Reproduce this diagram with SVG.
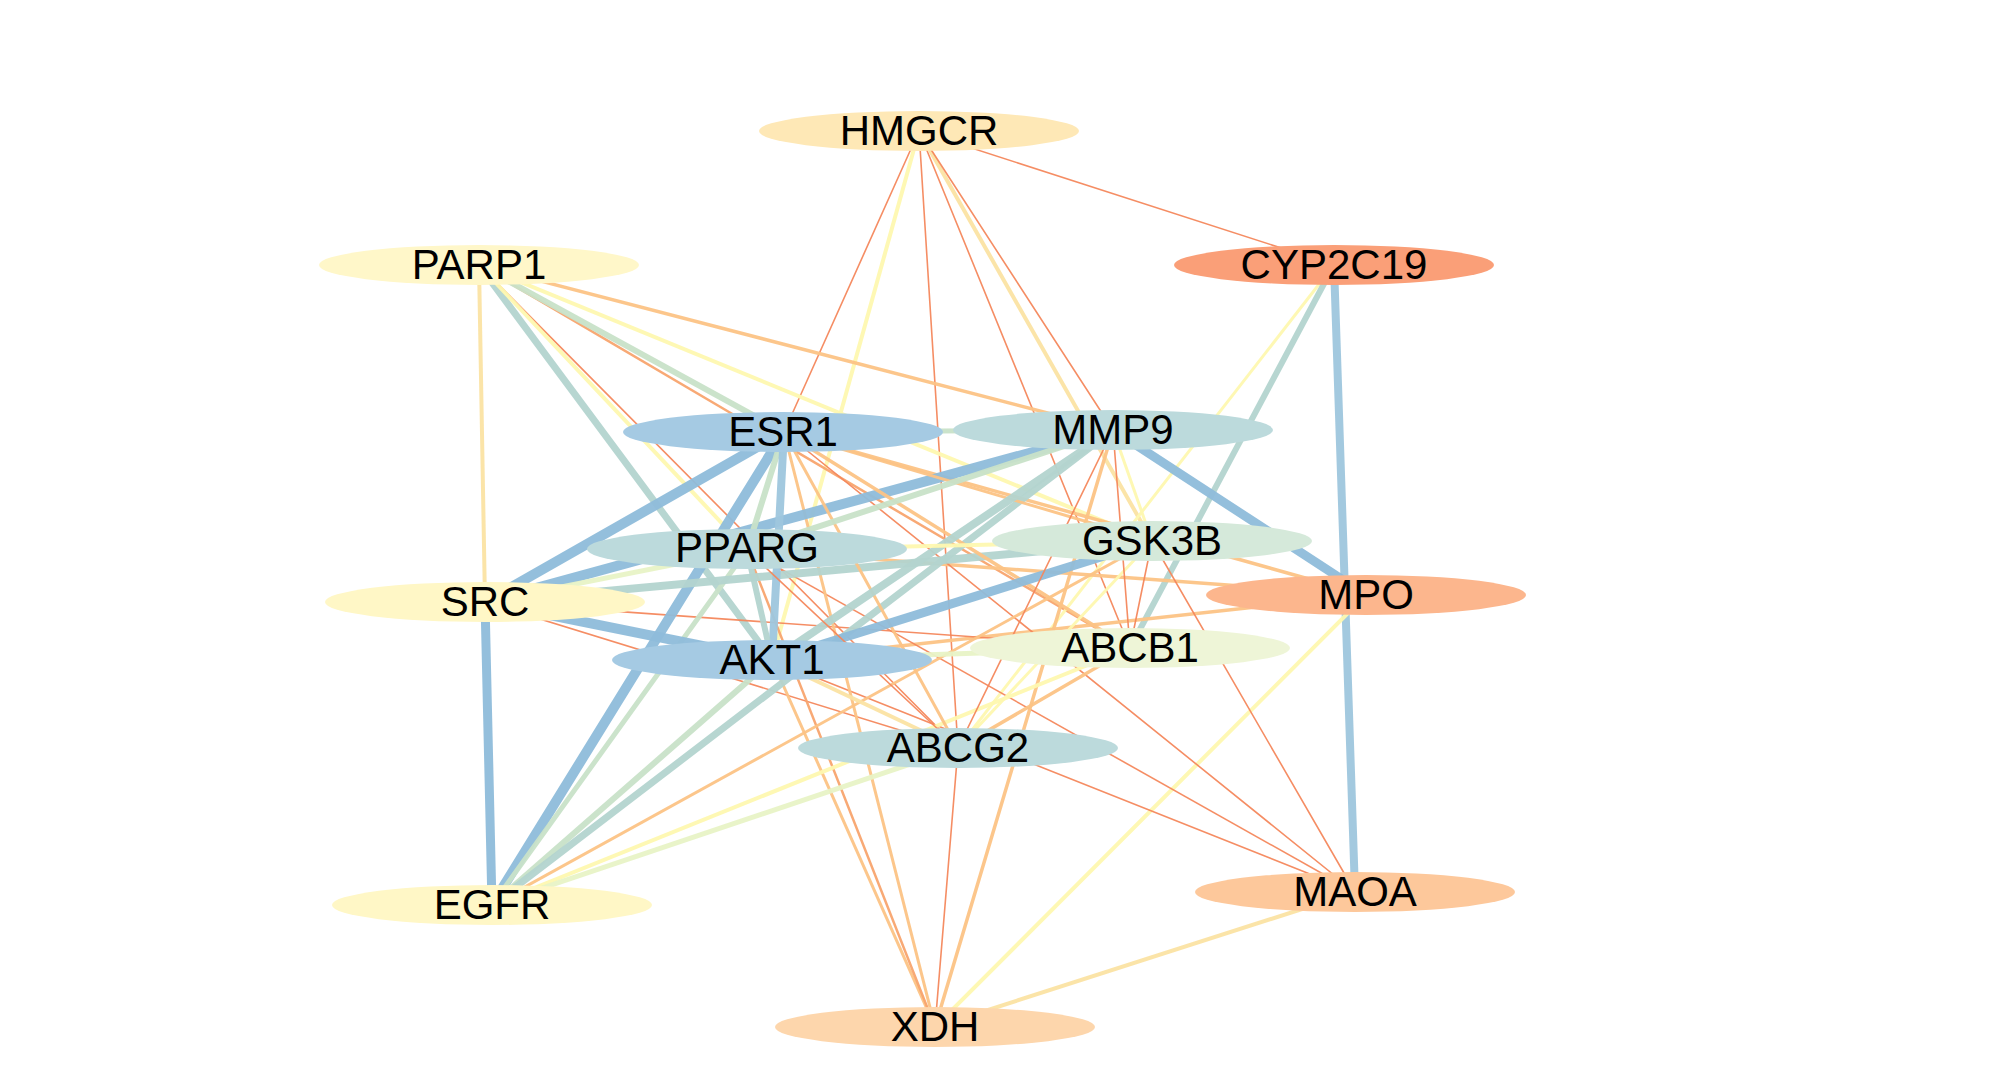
<svg xmlns="http://www.w3.org/2000/svg" width="2000" height="1087" viewBox="0 0 2000 1087">
<style>
.e{fill:none;stroke-linecap:round;stroke-opacity:0.95}
.bk{stroke:#8EBCDA;stroke-width:10}
.bm{stroke:#9EC6DD;stroke-width:8}
.gb{stroke:#B3D4CF;stroke-width:7}
.lg{stroke:#C8E1C8;stroke-width:6}
.yg{stroke:#E8F3C6;stroke-width:5}
.y{stroke:#FEF8B0;stroke-width:4}
.t{stroke:#FBE3A3;stroke-width:4}
.o{stroke:#FCC385;stroke-width:3.5}
.ro{stroke:#F8A46E;stroke-width:2.5}
.r{stroke:#F4875C;stroke-width:1.6}
.n ellipse{stroke:none}
.n text{font-family:"Liberation Sans",Arial,sans-serif;font-size:42px;fill:#000;text-anchor:middle}
</style>
<rect width="2000" height="1087" fill="#fff"/>
<g id="edges" class="e">
<line class="r" x1="919" y1="131" x2="1334" y2="265"/>
<line class="r" x1="919" y1="131" x2="784" y2="432"/>
<line class="y" x1="919" y1="131" x2="772" y2="660"/>
<line class="r" x1="919" y1="131" x2="958" y2="748"/>
<line class="r" x1="919" y1="131" x2="1130" y2="648"/>
<line class="t" x1="919" y1="131" x2="1152" y2="541"/>
<line class="r" x1="919" y1="131" x2="1113" y2="430"/>
<line class="t" x1="479" y1="265" x2="485" y2="602"/>
<line class="gb" x1="479" y1="265" x2="772" y2="660"/>
<line class="r" x1="479" y1="265" x2="958" y2="748"/>
<line class="y" x1="479" y1="265" x2="747" y2="550"/>
<line class="ro" x1="479" y1="265" x2="1130" y2="648"/>
<line class="lg" x1="479" y1="265" x2="784" y2="432"/>
<line class="y" x1="479" y1="265" x2="1152" y2="541"/>
<line class="o" x1="479" y1="265" x2="1113" y2="430"/>
<line class="y" style="stroke-width:3" x1="1334" y1="265" x2="958" y2="748"/>
<line class="gb" style="stroke-width:6" x1="1334" y1="265" x2="1130" y2="648"/>
<line class="bm" x1="1334" y1="265" x2="1355" y2="892"/>
<line class="bk" style="stroke-width:9" x1="1113" y1="430" x2="1366" y2="595"/>
<line class="o" x1="784" y1="432" x2="1366" y2="595"/>
<line class="o" x1="747" y1="550" x2="1366" y2="595"/>
<line class="o" x1="772" y1="660" x2="1366" y2="595"/>
<line class="y" x1="1366" y1="595" x2="935" y2="1027"/>
<line class="r" x1="485" y1="602" x2="1130" y2="648"/>
<line class="r" x1="485" y1="602" x2="958" y2="748"/>
<line class="r" x1="772" y1="660" x2="1355" y2="892"/>
<line class="r" x1="747" y1="550" x2="1355" y2="892"/>
<line class="r" x1="784" y1="432" x2="1355" y2="892"/>
<line class="r" x1="1152" y1="541" x2="1355" y2="892"/>
<line class="t" x1="1355" y1="892" x2="935" y2="1027"/>
<line class="o" style="stroke-width:3" x1="772" y1="660" x2="935" y2="1027"/>
<line class="ro" x1="747" y1="550" x2="935" y2="1027"/>
<line class="o" style="stroke-width:3" x1="784" y1="432" x2="935" y2="1027"/>
<line class="r" x1="958" y1="748" x2="935" y2="1027"/>
<line class="o" x1="1113" y1="430" x2="935" y2="1027"/>
<line class="bk" style="stroke-width:9" x1="492" y1="905" x2="485" y2="602"/>
<line class="bk" x1="492" y1="905" x2="784" y2="432"/>
<line class="lg" style="stroke-width:5" x1="492" y1="905" x2="747" y2="550"/>
<line class="lg" x1="492" y1="905" x2="772" y2="660"/>
<line class="gb" x1="492" y1="905" x2="1113" y2="430"/>
<line class="o" style="stroke-width:3" x1="492" y1="905" x2="1152" y2="541"/>
<line class="y" x1="492" y1="905" x2="1130" y2="648"/>
<line class="yg" x1="492" y1="905" x2="958" y2="748"/>
<line class="bk" x1="485" y1="602" x2="784" y2="432"/>
<line class="bk" x1="485" y1="602" x2="1113" y2="430"/>
<line class="gb" style="stroke-width:8" x1="485" y1="602" x2="1152" y2="541"/>
<line class="bk" x1="485" y1="602" x2="772" y2="660"/>
<line class="yg" x1="485" y1="602" x2="747" y2="550"/>
<line class="lg" x1="784" y1="432" x2="747" y2="550"/>
<line class="bm" x1="784" y1="432" x2="772" y2="660"/>
<line class="o" style="stroke-width:3" x1="784" y1="432" x2="958" y2="748"/>
<line class="o" x1="784" y1="432" x2="1130" y2="648"/>
<line class="lg" style="stroke-width:5" x1="784" y1="432" x2="1113" y2="430"/>
<line class="o" style="stroke-width:3" x1="784" y1="432" x2="1152" y2="541"/>
<line class="bk" style="stroke-width:9" x1="772" y1="660" x2="1152" y2="541"/>
<line class="gb" style="stroke-width:8" x1="772" y1="660" x2="1113" y2="430"/>
<line class="gb" style="stroke-width:6" x1="772" y1="660" x2="747" y2="550"/>
<line class="yg" x1="772" y1="660" x2="1130" y2="648"/>
<line class="t" x1="772" y1="660" x2="958" y2="748"/>
<line class="lg" x1="747" y1="550" x2="1113" y2="430"/>
<line class="y" x1="747" y1="550" x2="1152" y2="541"/>
<line class="r" x1="747" y1="550" x2="958" y2="748"/>
<line class="r" x1="1113" y1="430" x2="958" y2="748"/>
<line class="y" style="stroke-width:3" x1="1152" y1="541" x2="958" y2="748"/>
<line class="o" x1="1130" y1="648" x2="958" y2="748"/>
<line class="y" style="stroke-width:3" x1="1113" y1="430" x2="1152" y2="541"/>
<line class="r" x1="1152" y1="541" x2="1130" y2="648"/>
<line class="r" x1="1113" y1="430" x2="1130" y2="648"/>
</g>
<g id="node-HMGCR" class="n"><ellipse cx="919" cy="131" rx="160" ry="20" fill="#FEE8B6"/><text x="919" y="145">HMGCR</text></g>
<g id="node-PARP1" class="n"><ellipse cx="479" cy="265" rx="160" ry="20" fill="#FFF7C9"/><text x="479" y="279">PARP1</text></g>
<g id="node-CYP2C19" class="n"><ellipse cx="1334" cy="265" rx="160" ry="20" fill="#FA9F78"/><text x="1334" y="279">CYP2C19</text></g>
<g id="node-ESR1" class="n"><ellipse cx="783" cy="432" rx="160" ry="20" fill="#A5CAE3"/><text x="783" y="446">ESR1</text></g>
<g id="node-MMP9" class="n"><ellipse cx="1113" cy="430" rx="160" ry="20" fill="#BCDADC"/><text x="1113" y="444">MMP9</text></g>
<g id="node-PPARG" class="n"><ellipse cx="747" cy="549" rx="160" ry="20" fill="#BCDADC"/><text x="747" y="562">PPARG</text></g>
<g id="node-GSK3B" class="n"><ellipse cx="1152" cy="541" rx="160" ry="20" fill="#D5E9DA"/><text x="1152" y="555">GSK3B</text></g>
<g id="node-SRC" class="n"><ellipse cx="485" cy="602" rx="160" ry="20" fill="#FFF7C6"/><text x="485" y="616">SRC</text></g>
<g id="node-MPO" class="n"><ellipse cx="1366" cy="595" rx="160" ry="20" fill="#FCB68D"/><text x="1366" y="609">MPO</text></g>
<g id="node-AKT1" class="n"><ellipse cx="772" cy="660" rx="160" ry="20" fill="#A5CAE3"/><text x="772" y="674">AKT1</text></g>
<g id="node-ABCB1" class="n"><ellipse cx="1130" cy="648" rx="160" ry="20" fill="#EEF5D7"/><text x="1130" y="662">ABCB1</text></g>
<g id="node-ABCG2" class="n"><ellipse cx="958" cy="748" rx="160" ry="20" fill="#BCDADC"/><text x="958" y="762">ABCG2</text></g>
<g id="node-EGFR" class="n"><ellipse cx="492" cy="905" rx="160" ry="20" fill="#FFF7C6"/><text x="492" y="919">EGFR</text></g>
<g id="node-MAOA" class="n"><ellipse cx="1355" cy="892" rx="160" ry="20" fill="#FDC89B"/><text x="1355" y="906">MAOA</text></g>
<g id="node-XDH" class="n"><ellipse cx="935" cy="1027" rx="160" ry="20" fill="#FDD6AC"/><text x="935" y="1041">XDH</text></g>
</svg>
